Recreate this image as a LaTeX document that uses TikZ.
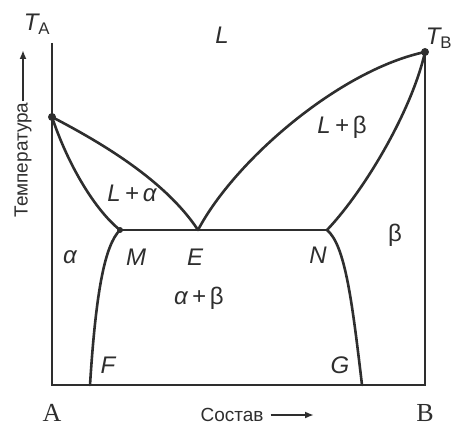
\documentclass[tikz,border=0pt]{standalone}
\usepackage{fontspec}
\setmainfont{Liberation Sans}
\newfontfamily\serfont{Liberation Serif}
\usetikzlibrary{arrows.meta}
\definecolor{ink}{HTML}{2E2E2E}
\tikzset{
  crv/.style  = {line width=2.6pt, draw=ink, line cap=round},
  ax/.style   = {line width=2.2pt, draw=ink},
  pt/.style   = {circle, fill=ink, inner sep=0pt, minimum size=8pt},
  lbl/.style  = {font=\fontsize{24}{24}\selectfont\itshape, inner sep=0pt, text=ink},
  cyr/.style  = {font=\fontsize{19}{19}\selectfont, inner sep=1pt, text=ink},
  ends/.style = {font=\fontsize{26}{26}\selectfont\serfont, inner sep=0pt, text=ink},
  arr/.style  = {-{Latex[length=9pt, width=7pt]}, line width=2pt, draw=ink},
}

\begin{document}
\begin{tikzpicture}[x=1pt, y=-1pt]
  \useasboundingbox (0,0) rectangle (454,430);

  % key points of the diagram
  \coordinate (top) at (52,43);
  \coordinate (A0)  at (52,385);
  \coordinate (B0)  at (425,385);
  \coordinate (TA)  at (52,117);
  \coordinate (TB)  at (425,52);
  \coordinate (M)   at (120,230);
  \coordinate (E)   at (198,230);
  \coordinate (N)   at (327,230);
  \coordinate (F)   at (90,385);
  \coordinate (G)   at (362,385);

  % frame
  \draw[ax] (top) -- (A0) -- (B0) -- (TB);

  % liquidus and solidus
  \draw[crv] (TA) .. controls (100,142) and (165,180) .. (E);
  \draw[crv] (TA) .. controls (68,165) and (95,210) .. (M);
  \draw[crv] (E) .. controls (235,160) and (340,70) .. (TB);
  \draw[crv] (N) .. controls (365,190) and (412,110) .. (TB);

  % eutectic line and solvus
  \draw[crv] (M) -- (N);
  \draw[crv] (M) .. controls (105,245) and (96,290) .. (F);
  \draw[crv] (N) .. controls (345,245) and (352,300) .. (G);

  \node[pt] (dTA) at (TA) {};
  \node[pt] (dTB) at (TB) {};
  \node[pt, minimum size=6pt] (dM) at (M) {};

  % axis labels
  \node[lbl] (lTA) at (37,24) {T\textsubscript{\upshape A}};
  \node[lbl] (lTB) at (439,38) {T\textsubscript{\upshape B}};
  \node[cyr, rotate=90] (temp) at (23,160) {Температура};
  \coordinate (tempTip) at (23,50);
  \draw[arr] (temp.east) -- (tempTip);
  \node[cyr] (comp) at (232,415) {Состав};
  \coordinate (compTip) at (314,415);
  \draw[arr] (comp.east) ++(6,0) -- (compTip);
  \node[ends] (lA) at (52,413) {A};
  \node[ends] (lB) at (425,413) {B};

  % phase fields
  \node[lbl] (lL)  at (222,35)  {L};
  \node[lbl] (lLa) at (132,193) {L\,+\,α};
  \node[lbl] (lLb) at (342,127) {L\,+\,\upshape β};
  \node[lbl] (la)  at (70,257)  {α};
  \node[lbl] (lb)  at (395,235) {\upshape β};
  \node[lbl] (lab) at (199,298) {α\,+\,\upshape β};

  % point labels
  \node[lbl] (lM) at (136,257) {M};
  \node[lbl] (lE) at (195,257) {E};
  \node[lbl] (lN) at (318,255) {N};
  \node[lbl] (lF) at (108,365) {F};
  \node[lbl] (lG) at (340,365) {G};
\end{tikzpicture}
\end{document}
